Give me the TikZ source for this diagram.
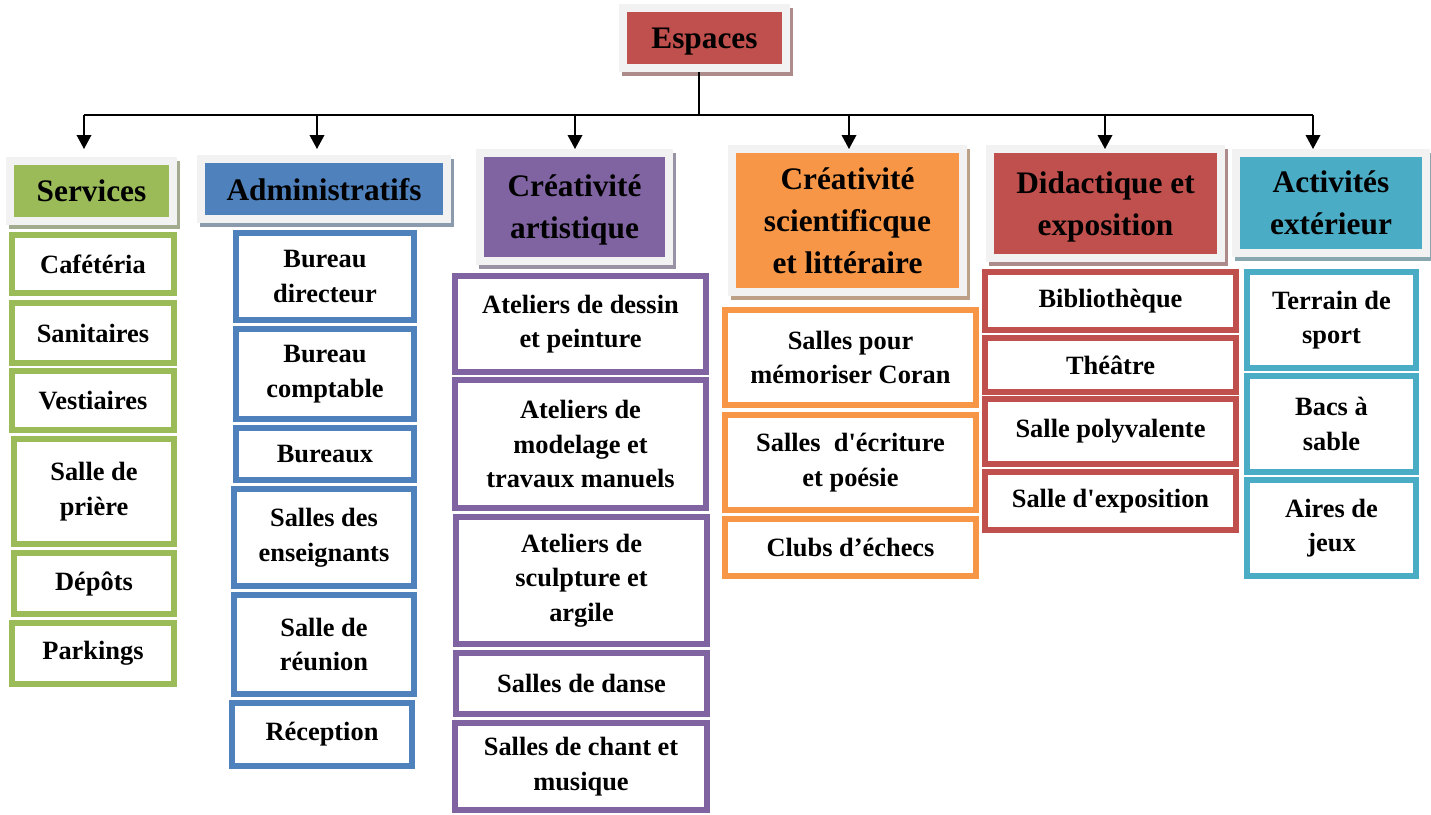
\documentclass[tikz,border=0pt]{standalone}
\usepackage{fontspec}
\setmainfont{Liberation Serif}
\usetikzlibrary{arrows.meta,shadows}

\definecolor{grnc}{HTML}{9BBB59}
\definecolor{bluc}{HTML}{4F81BD}
\definecolor{purc}{HTML}{8064A2}
\definecolor{orgc}{HTML}{F79646}
\definecolor{redc}{HTML}{C0504D}
\definecolor{cyac}{HTML}{4BACC6}
\definecolor{hdrgray}{HTML}{F2F2F2}

\newcommand{\hdrfont}{\fontsize{23.5}{31.5}\selectfont\bfseries}
\newcommand{\itmfont}{\fontsize{19.8}{26}\selectfont\bfseries}

\tikzset{
  sz/.style 2 args={minimum width=#1*0.75pt,minimum height=#2*0.75pt},
  hdr/.style={fill=#1,draw=hdrgray,line width=6pt,inner sep=0pt,align=center,font=\hdrfont,
    text depth=-4pt,
    drop shadow={shadow xshift=2pt,shadow yshift=-3pt,fill=#1!55!black!55,draw=#1!55!black!55,line width=6pt,opacity=1}},
  itm/.style={draw=#1,fill=white,line width=4.5pt,inner sep=0pt,align=center,font=\itmfont},
  arr/.style={line width=1.1pt,shorten >=#1,arrows={-Triangle[length=10.5pt,width=11pt]}},
}

\begin{document}
\begin{tikzpicture}[x=0.75pt,y=0.75pt,yscale=-1,xscale=1]
\path[use as bounding box] (0,0) rectangle (1431,814);

%Top box
\node (esp) at (704.5,38) [hdr=redc, sz={163}{60}] {Espaces};

%Bus line
\coordinate (bus) at (699,115);
\coordinate (b1) at (84,115);
\coordinate (b2) at (317,115);
\coordinate (b3) at (575,115);
\coordinate (b4) at (849,115);
\coordinate (b5) at (1105,115);
\coordinate (b6) at (1313,115);
\draw [line width=1.1pt] (esp.south -| bus) -- (bus);
\draw [line width=1.5pt] (b1) -- (b6);

%Headers
\node (srv) at (91.5,191) [hdr=grnc, sz={163}{60}] {Services};
\node (adm) at (324,189) [hdr=bluc, sz={246}{60}] {Administratifs};
\node (art) at (574.5,207) [hdr=purc, sz={189}{108}] {Créativité\\artistique};
\node (sci) at (847.5,220.5) [hdr=orgc, sz={231}{143}] {Créativité\\scientificque\\et littéraire};
\node (did) at (1105.5,203.5) [hdr=redc, sz={231}{109}] {Didactique et\\exposition};
\node (ext) at (1331,203) [hdr=cyac, sz={190}{100}] {Activités\\extérieur};

%Arrows
\draw [arr=6pt] (b1) -- (b1 |- srv.north);
\draw [arr=4.5pt] (b2) -- (b2 |- adm.north);
\draw [arr=0pt] (b3) -- (b3 |- art.north);
\draw [arr=-3pt] (b4) -- (b4 |- sci.north);
\draw [arr=-3pt] (b5) -- (b5 |- did.north);
\draw [arr=0pt] (b6) -- (b6 |- ext.north);

%Services
\node (caf) at (93,264) [itm=grnc, sz={162}{58}] {Cafétéria};
\node (san) at (93,333) [itm=grnc, sz={162}{60}] {Sanitaires};
\node (ves) at (93,400.5) [itm=grnc, sz={162}{59}] {Vestiaires};
\node (pri) at (94,491.5) [itm=grnc, sz={160}{105}] {Salle de\\prière};
\node (dep) at (94,583.5) [itm=grnc, sz={160}{61}] {Dépôts};
\node (par) at (93,653.5) [itm=grnc, sz={162}{61}] {Parkings};

%Administratifs
\node (bdi) at (325,276.5) [itm=bluc, sz={178}{87}] {Bureau\\directeur};
\node (bco) at (325,374) [itm=bluc, sz={178}{90}] {Bureau\\comptable};
\node (bxx) at (325,454) [itm=bluc, sz={178}{52}] {Bureaux};
\node (sen) at (324,537.5) [itm=bluc, sz={180}{97}] {Salles des\\enseignants};
\node (sre) at (324,644.5) [itm=bluc, sz={180}{99}] {Salle de\\réunion};
\node (rec) at (322,734.5) [itm=bluc, sz={180}{63}] {Réception};

%Creativite artistique
\node (ade) at (580.5,324) [itm=purc, sz={251}{96}] {Ateliers de dessin\\et peinture};
\node (amo) at (580.5,444) [itm=purc, sz={251}{128}] {Ateliers de\\modelage et\\travaux manuels};
\node (asc) at (581.5,580.5) [itm=purc, sz={251}{127}] {Ateliers de\\sculpture et\\argile};
\node (sda) at (581.5,683.5) [itm=purc, sz={251}{61}] {Salles de danse};
\node (sch) at (581,766.5) [itm=purc, sz={252}{87}] {Salles de chant et\\musique};

%Creativite scientifique
\node (sco) at (850.5,357.5) [itm=orgc, sz={251}{95}] {Salles pour\\mémoriser Coran};
\node (sec) at (850.5,462.5) [itm=orgc, sz={251}{95}] {Salles~ d\textquotesingle écriture\\et poésie};
\node (clu) at (850.5,547.5) [itm=orgc, sz={251}{57}] {Clubs d’échecs};

%Didactique
\node (bib) at (1110.5,301) [itm=redc, sz={251}{58}] {Bibliothèque};
\node (the) at (1110.5,365) [itm=redc, sz={251}{54}] {Théâtre};
\node (spo) at (1110.5,431.5) [itm=redc, sz={251}{65}] {Salle polyvalente};
\node (sex) at (1110.5,501) [itm=redc, sz={251}{58}] {Salle d\textquotesingle exposition};

%Activites exterieur
\node (ter) at (1331.5,320) [itm=cyac, sz={169}{96}] {Terrain de\\sport};
\node (bac) at (1331.5,424) [itm=cyac, sz={169}{96}] {Bacs à\\sable};
\node (air) at (1331.5,528) [itm=cyac, sz={169}{96}] {Aires de\\jeux};

\end{tikzpicture}
\end{document}
